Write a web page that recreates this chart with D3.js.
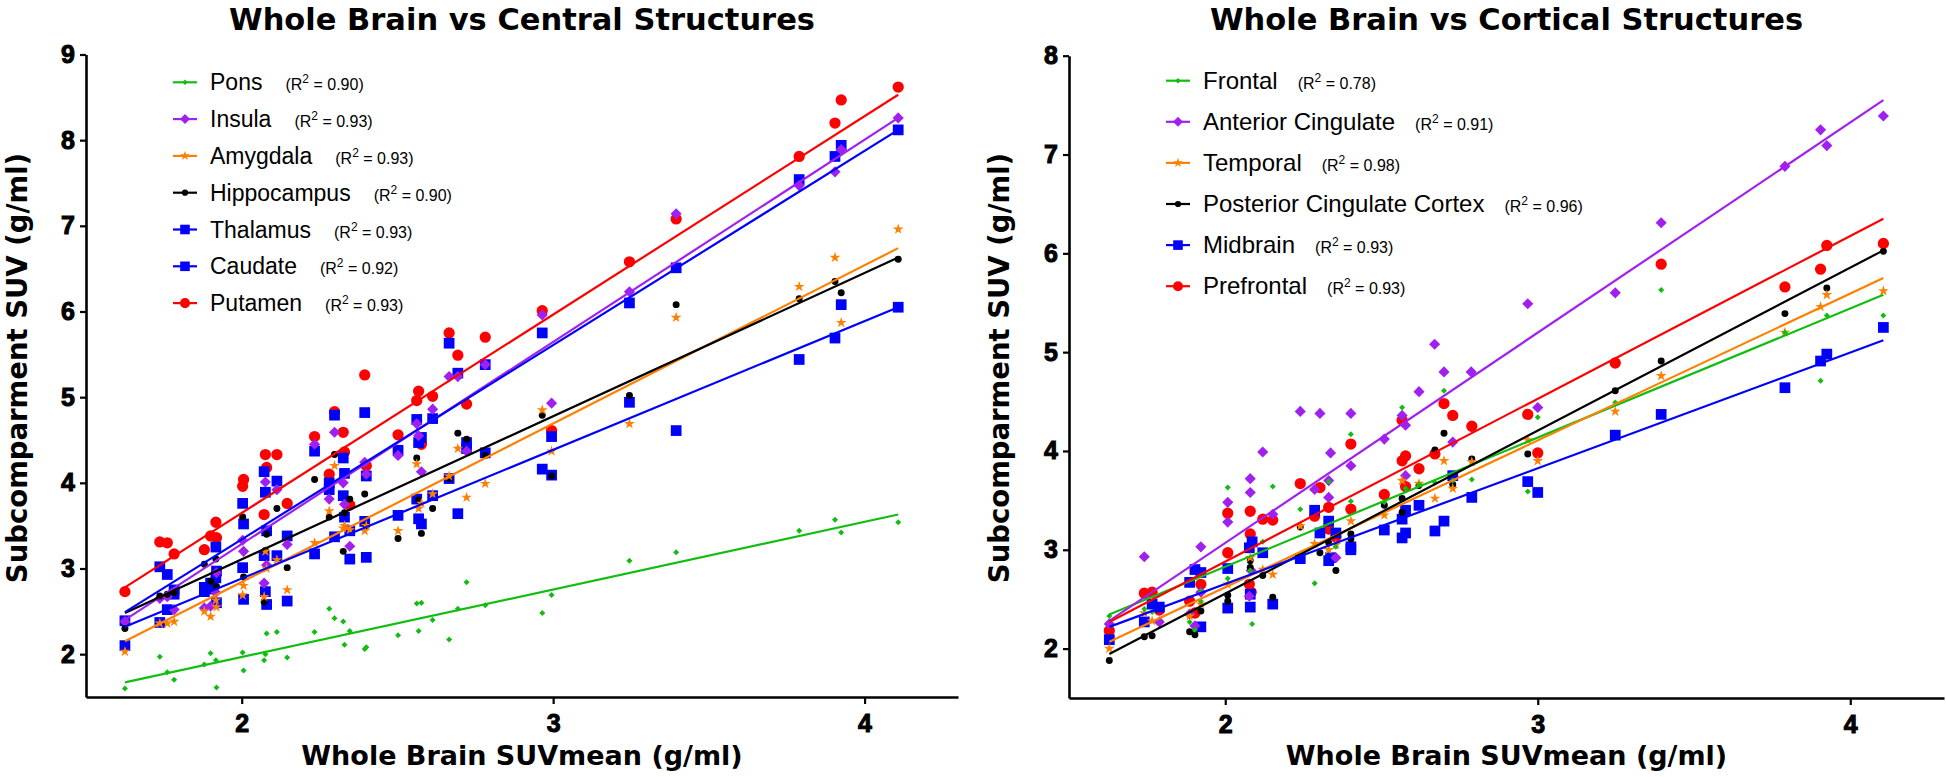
<!DOCTYPE html>
<html><head><meta charset="utf-8">
<script src="https://cdn.jsdelivr.net/npm/d3@7"></script>
<style>
body{margin:0;background:#fff;}
text{font-family:"Liberation Sans",Arial,Helvetica,sans-serif;}
.heavy{font-family:"DejaVu Sans","Liberation Sans",Arial,sans-serif;font-weight:bold;}
</style>
</head><body>
<svg id="chart" width="1946" height="777"></svg>
<script>
// ---------- DATA: left panel (Whole Brain vs Central Structures) ----------
const wholeBrainLeft = [1.625,1.737,1.761,1.783,1.880,1.900,1.917,1.919,2.003,2.006,2.072,2.076,2.080,2.113,2.146,2.234,2.281,2.298,2.326,2.330,2.347,2.395,2.400,2.502,2.562,2.568,2.577,2.613,2.666,2.694,2.722,2.782,2.965,2.995,3.245,3.395,3.790,3.905,3.925,4.108];
const pons        = [1.60,1.97,1.79,1.70,1.88,2.01,1.93,1.61,2.02,1.81,1.93,2.00,2.24,2.26,1.96,2.26,2.53,2.42,2.38,2.11,2.27,2.06,2.08,2.22,2.59,2.27,2.60,2.40,2.17,2.53,2.84,2.57,2.48,2.69,3.09,3.19,3.44,3.57,3.42,3.54];
const insula      = [2.38,2.65,2.67,2.52,2.54,2.56,2.72,2.95,3.33,3.20,2.83,4.01,3.04,3.92,3.28,4.45,3.81,4.59,4.00,3.75,3.26,4.24,4.10,4.32,4.69,4.55,4.13,4.86,5.24,5.24,4.37,5.38,5.96,4.93,6.23,7.14,7.47,7.63,7.89,8.26];
const amygdala    = [2.03,2.36,2.36,2.38,2.50,2.44,2.63,2.55,2.69,2.80,2.67,3.20,3.00,3.10,2.75,3.30,3.67,4.20,3.47,3.50,3.45,3.44,3.50,3.44,4.22,3.70,3.76,3.87,4.08,4.40,3.83,3.99,4.85,4.37,4.69,5.93,6.29,6.63,5.87,6.96];
const hippocampus = [2.30,2.68,2.70,2.72,3.05,2.85,3.11,2.79,3.60,2.90,2.61,3.21,3.40,3.70,3.01,4.04,3.60,4.33,3.20,3.65,3.81,3.87,3.50,3.35,4.29,3.80,3.41,3.70,4.05,4.58,4.51,4.32,4.79,4.08,5.02,6.08,6.15,6.35,6.22,6.61];
const thalamus    = [2.39,3.02,2.93,2.75,2.78,2.83,3.25,2.97,3.76,3.52,4.13,3.89,3.44,4.02,3.38,4.37,4.00,4.79,4.29,4.11,3.44,4.82,4.08,4.38,4.74,4.47,4.53,4.75,5.63,5.28,4.47,5.38,5.75,4.54,6.10,6.51,7.54,7.81,7.94,8.12];
const caudate     = [2.10,2.37,2.52,2.70,2.73,2.76,2.89,2.60,3.01,2.64,3.15,2.73,2.58,3.15,2.62,3.17,3.92,3.37,3.85,3.60,3.11,3.55,3.13,3.62,3.81,3.58,3.52,3.85,4.05,3.64,4.40,4.35,4.16,4.09,4.94,4.61,5.44,5.69,6.08,6.05];
const putamen     = [2.73,3.31,3.30,3.17,3.22,3.38,3.54,3.36,3.96,4.04,3.63,4.33,4.18,4.33,3.76,4.54,4.10,4.83,4.59,4.36,3.74,5.26,4.20,4.56,4.96,5.07,4.45,5.01,5.75,5.49,4.92,5.70,6.01,4.61,6.58,7.08,7.81,8.20,8.47,8.62];
// fitted line values [y at first x, y at last x]
const leftNames = ["Pons","Insula","Amygdala","Hippocampus","Thalamus","Caudate","Putamen"];
const leftR2    = ["0.90","0.93","0.93","0.90","0.93","0.92","0.93"];
const leftFits  = [[1.67,3.63],[2.40,8.26],[2.15,6.74],[2.48,6.63],[2.49,8.12],[2.32,6.05],[2.78,8.53]];

// ---------- DATA: right panel (Whole Brain vs Cortical Structures) ----------
const frontal = [[1.629,2.33],[1.741,2.40],[1.766,2.37],[1.886,2.27],[1.903,2.19],[1.922,2.58],[1.922,2.48],[2.008,3.63],[2.008,2.71],[2.08,2.79],[2.086,2.25],[2.12,3.08],[2.152,3.64],[2.24,3.41],[2.286,2.66],[2.331,3.69],[2.354,3.03],[2.402,4.17],[2.402,3.49],[2.509,3.48],[2.566,4.44],[2.577,3.62],[2.62,3.66],[2.671,3.68],[2.70,4.61],[2.728,3.70],[2.789,3.71],[2.968,3.59],[3.0,4.34],[3.248,4.49],[3.395,5.63],[3.791,5.20],[3.905,4.71],[3.925,5.37],[4.106,5.37]];
const antCingulate = [[1.629,2.25],[1.741,2.93],[1.789,2.27],[1.886,2.35],[1.903,2.23],[1.922,3.03],[1.922,2.57],[2.008,3.48],[2.008,3.28],[2.08,3.72],[2.08,3.58],[2.083,2.79],[2.077,2.53],[2.12,3.99],[2.152,3.36],[2.24,4.40],[2.286,3.61],[2.303,4.38],[2.331,3.70],[2.331,3.53],[2.337,3.98],[2.354,2.92],[2.402,4.38],[2.402,3.85],[2.509,4.12],[2.566,4.36],[2.577,4.26],[2.577,3.75],[2.62,4.60],[2.67,5.08],[2.70,4.80],[2.728,4.09],[2.787,4.80],[2.968,5.49],[3.0,4.44],[3.248,5.60],[3.395,6.31],[3.791,6.88],[3.905,7.25],[3.925,7.09],[4.106,7.39]];
const temporal = [[1.629,2.00],[1.741,2.36],[1.766,2.28],[1.886,2.33],[1.922,2.45],[2.008,2.65],[2.08,2.92],[2.12,2.80],[2.152,2.75],[2.24,3.24],[2.286,3.06],[2.331,3.00],[2.354,3.05],[2.402,3.29],[2.509,3.35],[2.566,3.70],[2.62,3.67],[2.671,3.52],[2.70,3.90],[2.728,3.62],[2.789,3.89],[2.968,4.11],[3.0,3.90],[3.248,4.40],[3.395,4.76],[3.791,5.20],[3.905,5.46],[3.925,5.58],[4.106,5.62]];
const postCingulate = [[1.629,1.88],[1.741,2.12],[1.766,2.13],[1.886,2.17],[1.903,2.14],[1.922,2.38],[2.008,2.54],[2.008,2.48],[2.08,2.89],[2.08,2.82],[2.12,2.74],[2.152,2.52],[2.24,3.23],[2.303,2.97],[2.331,3.07],[2.354,2.79],[2.402,3.16],[2.402,3.11],[2.509,3.45],[2.566,3.52],[2.566,3.38],[2.62,3.65],[2.671,4.01],[2.70,4.18],[2.728,3.66],[2.789,3.92],[2.968,3.97],[3.248,4.61],[3.395,4.91],[3.791,5.39],[3.925,5.65],[4.106,6.02]];
const midbrain = [[1.629,2.09],[1.741,2.27],[1.766,2.45],[1.789,2.42],[1.886,2.67],[1.903,2.80],[1.922,2.77],[1.922,2.22],[2.008,2.81],[2.008,2.41],[2.077,3.02],[2.086,3.08],[2.08,2.55],[2.08,2.42],[2.12,2.97],[2.152,2.45],[2.24,2.91],[2.286,3.40],[2.303,3.17],[2.331,3.29],[2.331,2.89],[2.337,2.92],[2.354,3.17],[2.402,3.03],[2.402,3.00],[2.509,3.20],[2.566,3.12],[2.566,3.31],[2.577,3.40],[2.577,3.17],[2.62,3.45],[2.671,3.19],[2.70,3.29],[2.728,3.75],[2.789,3.53],[2.968,3.69],[3.0,3.58],[3.248,4.16],[3.395,4.37],[3.791,4.64],[3.905,4.91],[3.925,4.98],[4.106,5.25]];
const prefrontal = [[1.629,2.18],[1.741,2.56],[1.766,2.57],[1.789,2.39],[1.886,2.48],[1.903,2.36],[1.922,2.65],[2.008,2.97],[2.008,3.37],[2.08,3.39],[2.08,3.16],[2.077,2.65],[2.083,2.57],[2.12,3.31],[2.152,3.30],[2.24,3.67],[2.286,3.34],[2.303,3.63],[2.331,3.43],[2.331,3.21],[2.354,3.13],[2.402,4.07],[2.402,3.41],[2.509,3.56],[2.566,4.31],[2.566,3.90],[2.577,3.95],[2.577,3.64],[2.62,3.82],[2.671,3.97],[2.70,4.48],[2.728,4.36],[2.789,4.25],[2.968,4.37],[3.0,3.98],[3.248,4.89],[3.395,5.89],[3.791,5.66],[3.905,5.84],[3.925,6.08],[4.106,6.10]];
const rightNames = ["Frontal","Anterior Cingulate","Temporal","Posterior Cingulate Cortex","Midbrain","Prefrontal"];
const rightR2    = ["0.78","0.91","0.98","0.96","0.93","0.93"];
const rightFits  = [[2.345,5.58],[2.28,7.55],[2.07,5.75],[1.945,6.03],[2.22,5.12],[2.27,6.35]];

// axis tick values
const xTicks = [2,3,4];
const leftYTicks = [2,3,4,5,6,7,8,9];
const rightYTicks = [2,3,4,5,6,7,8];

// ---------- STYLE ----------
const COL = {green:"#12bd12", purple:"#a020f0", orange:"#ff8000", black:"#000000", blue:"#0000ff", red:"#ff0000"};
function symbolPath(shape, legend){
  const s = legend ? 0.8 : 1;
  switch(shape){
    case "circle": return d3.symbol(d3.symbolCircle, 100*s)();
    case "square": return d3.symbol(d3.symbolSquare, 115*s)();
    case "diamond": return d3.symbol(d3.symbolSquare, 62*s)();
    case "dot": return d3.symbol(d3.symbolCircle, 38*s)();
    case "star": return d3.symbol(d3.symbolStar, 36*s)();
    case "small": return d3.symbol(d3.symbolSquare, 18*s)();
  }
}
const rot = shape => (shape==="diamond"||shape==="small") ? " rotate(45)" : "";

const svg = d3.select("#chart");

function panel(cfg){
  const x = d3.scaleLinear().domain([1.5,4.3]).range(cfg.xr);
  const y = d3.scaleLinear().domain(cfg.yd).range(cfg.yr);
  const g = svg.append("g");

  // axes
  const ax = g.append("g").attr("transform",`translate(0,${cfg.yr[0]})`)
    .call(d3.axisBottom(x).tickValues(xTicks).tickFormat(d3.format("d")).tickSize(7).tickPadding(10).tickSizeOuter(0));
  const ay = g.append("g").attr("transform",`translate(${cfg.xr[0]},0)`)
    .call(d3.axisLeft(y).tickValues(cfg.yTicks).tickFormat(d3.format("d")).tickSize(6).tickPadding(5).tickSizeOuter(0));
  [ax,ay].forEach(a=>{
    a.select(".domain").attr("stroke","#000").attr("stroke-width",2.6);
    a.selectAll(".tick line").attr("stroke","#000").attr("stroke-width",2.2);
    a.selectAll(".tick text").attr("font-size",25).attr("font-weight","bold")
      .attr("fill","#000").attr("stroke","#000").attr("stroke-width",1)
      .style("font-family","'Liberation Sans',Arial,sans-serif");
  });

  // markers (drawn in cfg.drawOrder)
  cfg.drawOrder.forEach(i=>{
    const s = cfg.series[i];
    g.append("g").selectAll("path").data(s.pts).join("path")
      .attr("d", symbolPath(s.shape,false))
      .attr("transform", d=>`translate(${x(d[0])},${y(d[1])})${rot(s.shape)}`)
      .attr("fill", s.color);
  });
  // regression lines
  cfg.series.forEach(s=>{
    const ext = d3.extent(s.pts, d=>d[0]);
    g.append("line")
      .attr("x1", x(ext[0])).attr("y1", y(s.fit[0]))
      .attr("x2", x(ext[1])).attr("y2", y(s.fit[1]))
      .attr("stroke", s.color).attr("stroke-width", 2.2);
  });

  // titles
  const cx = (cfg.xr[0]+cfg.xr[1])/2;
  g.append("text").attr("class","heavy").attr("x",cx).attr("y",30).attr("text-anchor","middle")
    .attr("font-size",30.5).text(cfg.title);
  g.append("text").attr("class","heavy").attr("x",cx).attr("y",765).attr("text-anchor","middle")
    .attr("font-size",27).text("Whole Brain SUVmean (g/ml)");
  g.append("text").attr("class","heavy").attr("transform",`translate(${cfg.ylabX},368) rotate(-90)`).attr("text-anchor","middle")
    .attr("font-size",27.5).text("Subcomparment SUV (g/ml)");

  // legend
  const L = cfg.legend;
  cfg.series.forEach((s,i)=>{
    const yy = L.y0 + i*L.dy;
    const lg = g.append("g");
    lg.append("line").attr("x1",L.x).attr("x2",L.x+24).attr("y1",yy).attr("y2",yy)
      .attr("stroke",s.color).attr("stroke-width",2.2);
    lg.append("path").attr("d",symbolPath(s.shape,true))
      .attr("transform",`translate(${L.x+12},${yy})${rot(s.shape)}`).attr("fill",s.color);
    const t = lg.append("text").attr("x",L.x+37).attr("y",yy+8).attr("font-size",L.fs).text(s.name);
    const w = t.node().getComputedTextLength();
    const r = lg.append("text").attr("x",L.x+37+w+L.gap).attr("y",yy+8).attr("font-size",16);
    r.append("tspan").text("(R");
    r.append("tspan").attr("font-size",12).attr("dy",-7).text("2");
    r.append("tspan").attr("dy",7).text(" = " + s.r2 + ")");
  });
}

const leftVals = [pons,insula,amygdala,hippocampus,thalamus,caudate,putamen];
const leftShapes = ["small","diamond","star","dot","square","square","circle"];
const leftCols = [COL.green,COL.purple,COL.orange,COL.black,COL.blue,COL.blue,COL.red];
panel({
  xr:[86,958], yr:[697,54.5], yd:[1.5,9], yTicks:leftYTicks,
  title:"Whole Brain vs Central Structures", ylabX:27,
  legend:{x:173, y0:82.3, dy:36.8, fs:23, gap:23},
  drawOrder:[6,5,4,1,3,2,0],
  series: leftNames.map((n,i)=>({name:n, r2:leftR2[i], color:leftCols[i], shape:leftShapes[i],
    fit:leftFits[i], pts: wholeBrainLeft.map((xv,j)=>[xv, leftVals[i][j]])}))
});

const rightVals = [frontal,antCingulate,temporal,postCingulate,midbrain,prefrontal];
const rightShapes = ["small","diamond","star","dot","square","circle"];
const rightCols = [COL.green,COL.purple,COL.orange,COL.black,COL.blue,COL.red];
panel({
  xr:[1069,1944], yr:[698,55.7], yd:[1.5,8], yTicks:rightYTicks,
  title:"Whole Brain vs Cortical Structures", ylabX:1009,
  legend:{x:1166, y0:80.7, dy:41.1, fs:24, gap:20},
  drawOrder:[5,4,1,3,2,0],
  series: rightNames.map((n,i)=>({name:n, r2:rightR2[i], color:rightCols[i], shape:rightShapes[i],
    fit:rightFits[i], pts: rightVals[i]}))
});
</script>
</body></html>
